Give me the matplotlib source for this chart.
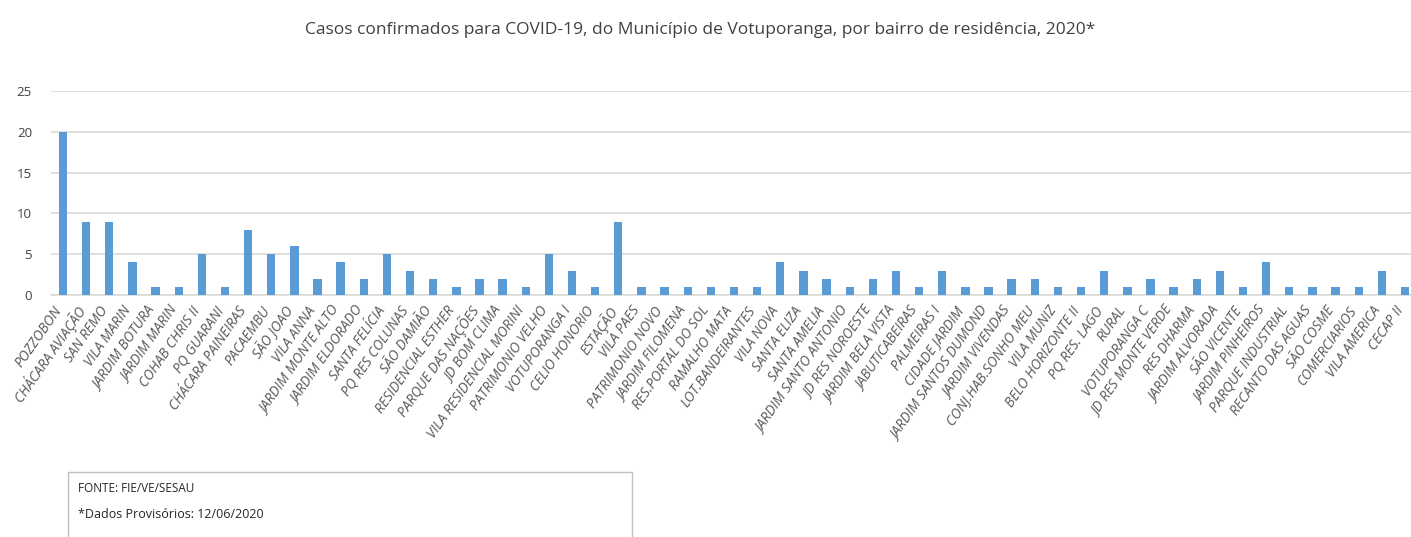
import matplotlib
matplotlib.use("Agg")
import matplotlib.pyplot as plt
from matplotlib.patches import Rectangle
from matplotlib.transforms import ScaledTranslation

bairros = [
    "POZZOBON", "CHÁCARA AVIAÇÃO", "SAN REMO", "VILA MARIN", "JARDIM BOTURA",
    "JARDIM MARIN", "COHAB CHRIS II", "PQ GUARANI", "CHÁCARA PAINEIRAS", "PACAEMBU",
    "SÃO JOAO", "VILA ANNA", "JARDIM MONTE ALTO", "JARDIM ELDORADO", "SANTA FELÍCIA",
    "PQ RES COLUNAS", "SÃO DAMIÃO", "RESIDENCIAL ESTHER", "PARQUE DAS NAÇÕES", "JD BOM CLIMA",
    "VILA RESIDENCIAL MORINI", "PATRIMONIO VELHO", "VOTUPORANGA I", "CELIO HONORIO", "ESTAÇÃO",
    "VILA PAES", "PATRIMONIO NOVO", "JARDIM FILOMENA", "RES.PORTAL DO SOL", "RAMALHO MATA",
    "LOT.BANDEIRANTES", "VILA NOVA", "SANTA ELIZA", "SANTA AMELIA", "JARDIM SANTO ANTONIO",
    "JD RES NOROESTE", "JARDIM BELA VISTA", "JABUTICABEIRAS", "PALMEIRAS I", "CIDADE JARDIM",
    "JARDIM SANTOS DUMOND", "JARDIM VIVENDAS", "CONJ.HAB.SONHO MEU", "VILA MUNIZ", "BELO HORIZONTE II",
    "PQ RES. LAGO", "RURAL", "VOTUPORANGA C", "JD RES MONTE VERDE", "RES DHARMA",
    "JARDIM ALVORADA", "SÃO VICENTE", "JARDIM PINHEIROS", "PARQUE INDUSTRIAL", "RECANTO DAS AGUAS",
    "SÃO COSME", "COMERCIARIOS", "VILA AMERICA", "CECAP II",
]
casos = [
    20, 9, 9, 4, 1, 1, 5, 1, 8, 5,
    6, 2, 4, 2, 5, 3, 2, 1, 2, 2,
    1, 5, 3, 1, 9, 1, 1, 1, 1, 1,
    1, 4, 3, 2, 1, 2, 3, 1, 3, 1,
    1, 2, 2, 1, 1, 3, 1, 2, 1, 2,
    3, 1, 4, 1, 1, 1, 1, 3, 1,
]
y_ticks = [0, 5, 10, 15, 20, 25]
titulo = "Casos confirmados para COVID-19, do Município de Votuporanga, por bairro de residência, 2020*"
nota1 = "FONTE: FIE/VE/SESAU"
nota2 = "*Dados Provisórios: 12/06/2020"

plt.rcParams["font.family"] = ["Open Sans", "DejaVu Sans"]

W, H = 1411, 537
fig = plt.figure(figsize=(W / 100, H / 100), dpi=100)
fig.patch.set_facecolor("white")

slot = (1405 - 63) / 58.0
left_px = 63 - slot / 2
right_px = 1405 + slot / 2
ax = fig.add_axes([left_px / W, 1 - 295 / H, (right_px - left_px) / W, (295 - 91) / H])

x = list(range(len(casos)))
ax.bar(x, casos, width=0.36, color="#5B9BD5", zorder=3)
ax.set_xlim(-0.5, len(casos) - 0.5)
ax.set_ylim(0, 25)
ax.set_yticks(y_ticks)
ax.set_yticklabels([str(v) for v in y_ticks], fontsize=9.5, color="#404040")
ax.set_xticks(x)
ax.set_xticklabels([])
ax.tick_params(axis="both", length=0)
ax.tick_params(axis="y", pad=14)
ax.grid(axis="y", color="#D9D9D9", linewidth=1.2, zorder=0)
for s in ["top", "right", "left"]:
    ax.spines[s].set_visible(False)
ax.spines["bottom"].set_color("#D9D9D9")
ax.spines["bottom"].set_linewidth(1.2)

lab_tr = ax.get_xaxis_transform() + ScaledTranslation(-4 / 100, -13 / 100, fig.dpi_scale_trans)
for xi, name in zip(x, bairros):
    ax.text(xi, 0, name, transform=lab_tr, rotation=55, rotation_mode="anchor",
            ha="right", va="center", fontsize=10, color="#595959", fontstyle="italic",
            clip_on=False)

fig.text(700 / W, 1 - 30 / H, titulo, ha="center", va="center", fontsize=12.5, color="#404040")

box = Rectangle((68 / W, 1 - 545 / H), (632 - 68) / W, (545 - 472) / H,
                transform=fig.transFigure, facecolor="white", edgecolor="#BFBFBF", linewidth=1.0)
fig.patches.append(box)
fig.text(78 / W, 1 - 489 / H, nota1, ha="left", va="center", fontsize=8.5, color="#262626")
fig.text(78 / W, 1 - 514 / H, nota2, ha="left", va="center", fontsize=9, color="#262626")

fig.savefig("out.png", dpi=100, facecolor="white")
